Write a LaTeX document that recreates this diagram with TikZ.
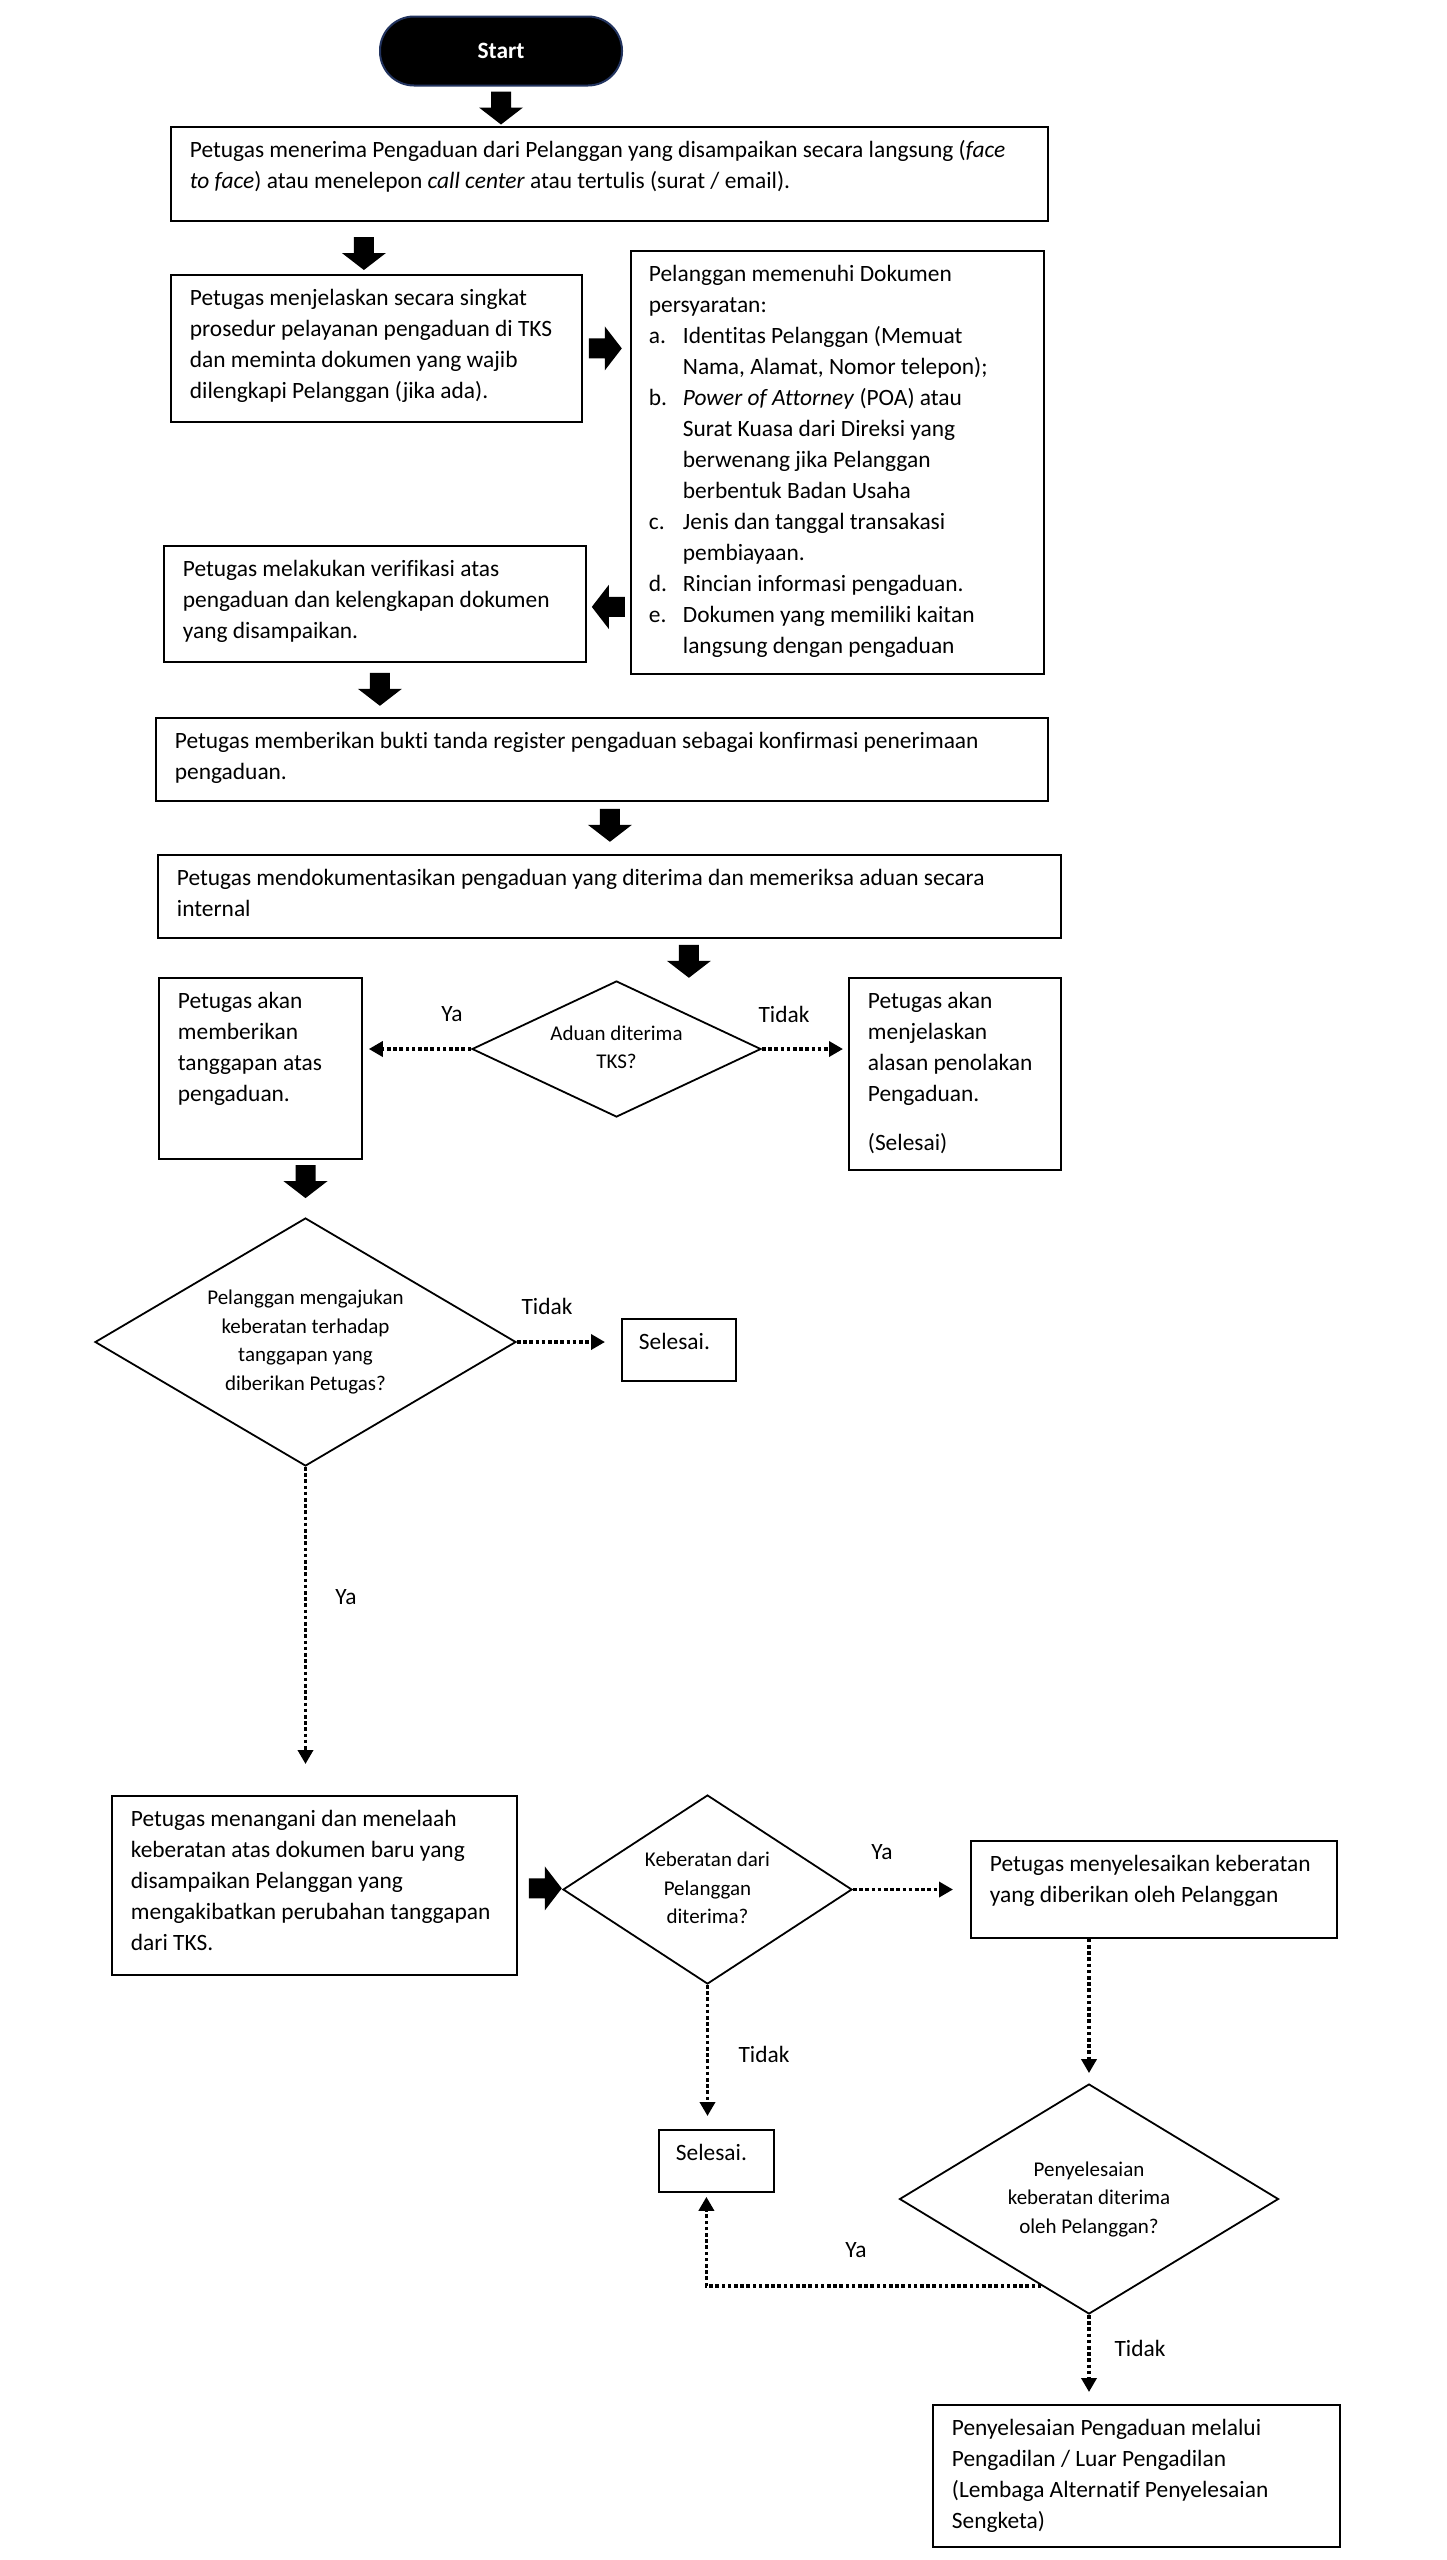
\documentclass[tikz,border=0pt]{standalone}
\usepackage{fontspec}
\setmainfont{Carlito}[Ligatures=NoCommon]
\usetikzlibrary{arrows.meta,shapes.geometric,calc}
\definecolor{navy}{HTML}{22335E}
\newcommand{\bodyfont}{\fontsize{23.4}{31}\selectfont}
\newcommand{\diafont}{\fontsize{21}{28.5}\selectfont}
\newcommand{\bxt}[3]{\parbox[t][\dimexpr #2pt-18pt\relax][t]{\dimexpr #1pt-38pt\relax}{\begin{tabular}[t]{@{}l@{}}#3\end{tabular}}}
\newcommand{\dtx}[1]{\smash{\raisebox{-5pt}{\makebox[0pt]{\begin{tabular}{@{}c@{}}#1\end{tabular}}}}}
\newcommand{\itm}[1]{\makebox[34pt][l]{#1}}
\newcommand{\ind}{\hspace*{34pt}}
\tikzset{
  box/.style={draw, line width=1.8pt, inner xsep=19pt, inner ysep=9pt, anchor=north west, font=\bodyfont},
  dia/.style={draw, diamond, line width=1.8pt, inner sep=0pt, font=\diafont},
  lbl/.style={font=\bodyfont, inner sep=0pt},
  dotline/.style={line width=3.6pt, dash pattern=on 3.6pt off 2.6pt, -{Triangle[width=15pt,length=14pt]}},
  barr/.pic={\fill (-10pt,0pt) -- (-10pt,-16pt) -- (-22pt,-16pt) -- (0pt,-33pt) -- (22pt,-16pt) -- (10pt,-16pt) -- (10pt,0pt) -- cycle;}
}
\begin{document}
\begin{tikzpicture}[x=1pt,y=-1pt]
\useasboundingbox (0,0) rectangle (1447,2560);
\fill[white] (0,0) rectangle (1447,2560);

\node[draw=navy, fill=black, line width=2pt, rounded corners=34pt, minimum width=242pt, minimum height=69pt, text=white, font=\bodyfont\bfseries] (start) at (501,51) {Start};

\node[box] (box1) at (170,126) {\bxt{877}{94}{Petugas menerima Pengaduan dari Pelanggan yang disampaikan secara langsung (\textit{face}\\ \textit{to face}) atau menelepon \textit{call center} atau tertulis (surat / email).}};

\node[box] (box2) at (170,274) {\bxt{411}{147}{Petugas menjelaskan secara singkat\\ prosedur pelayanan pengaduan di TKS\\ dan meminta dokumen yang wajib\\ dilengkapi Pelanggan (jika ada).}};

\node[box, inner xsep=18pt] (box3) at (630,250) {\bxt{415}{423}{Pelanggan memenuhi Dokumen\\ persyaratan:\\
\itm{a.}Identitas Pelanggan (Memuat\\ \ind Nama, Alamat, Nomor telepon);\\
\itm{b.}\textit{Power of Attorney} (POA) atau\\ \ind Surat Kuasa dari Direksi yang\\ \ind berwenang jika Pelanggan\\ \ind berbentuk Badan Usaha\\
\itm{c.}Jenis dan tanggal transakasi\\ \ind pembiayaan.\\
\itm{d.}Rincian informasi pengaduan.\\
\itm{e.}Dokumen yang memiliki kaitan\\ \ind langsung dengan pengaduan}};

\node[box] (box4) at (163,545) {\bxt{422}{116}{Petugas melakukan verifikasi atas\\ pengaduan dan kelengkapan dokumen\\ yang disampaikan.}};

\node[box] (box5) at (155,717) {\bxt{892}{83}{Petugas memberikan bukti tanda register pengaduan sebagai konfirmasi penerimaan\\ pengaduan.}};

\node[box] (box6) at (157,854) {\bxt{903}{83}{Petugas mendokumentasikan pengaduan yang diterima dan memeriksa aduan secara\\ internal}};

\node[dia, minimum width=289pt, minimum height=136pt] (d1) at (616.5,1049) {\dtx{Aduan diterima\\ TKS?}};

\node[box] (box7) at (158,977) {\bxt{203}{181}{Petugas akan\\ memberikan\\ tanggapan atas\\ pengaduan.}};

\node[box] (box8) at (848,977) {\bxt{212}{192}{Petugas akan\\ menjelaskan\\ alasan penolakan\\ Pengaduan.\\[18pt] (Selesai)}};

\node[dia, minimum width=421pt, minimum height=248pt] (d2) at (305.5,1342) {\dtx{Pelanggan mengajukan\\ keberatan terhadap\\ tanggapan yang\\ diberikan Petugas?}};

\node[box, inner xsep=17pt] (sel1) at (621,1318) {\bxt{118}{62}{Selesai.}};

\node[box] (box9) at (111,1795) {\bxt{405}{179}{Petugas menangani dan menelaah\\ keberatan atas dokumen baru yang\\ disampaikan Pelanggan yang\\ mengakibatkan perubahan tanggapan\\ dari TKS.}};

\node[dia, minimum width=289pt, minimum height=189pt] (d3) at (707.5,1889.5) {\dtx{Keberatan dari\\ Pelanggan\\ diterima?}};

\node[box] (box10) at (970,1840) {\bxt{366}{97}{Petugas menyelesaikan keberatan\\ yang diberikan oleh Pelanggan}};

\node[box, inner xsep=17pt] (sel2) at (658,2129) {\bxt{119}{62}{Selesai.}};

\node[dia, minimum width=379pt, minimum height=230pt] (d4) at (1089,2199) {\dtx{Penyelesaian\\ keberatan diterima\\ oleh Pelanggan?}};

\node[box] (box11) at (932,2404) {\bxt{407}{142}{Penyelesaian Pengaduan melalui\\ Pengadilan / Luar Pengadilan\\ (Lembaga Alternatif Penyelesaian\\ Sengketa)}};

% block arrows
\pic at ([yshift=-5pt]start.south) {barr};
\pic at ([xshift=-12.5pt,yshift=37pt]box2.north) {barr};
\pic[rotate=90] at ([xshift=6pt]box2.east) {barr};
\pic[rotate=-90] at ([xshift=38pt,yshift=-3pt]box4.east) {barr};
\pic at ([xshift=5pt,yshift=-10pt]box4.south) {barr};
\pic at ([xshift=8pt,yshift=-7pt]box5.south) {barr};
\pic at ([xshift=79.5pt,yshift=-6pt]box6.south) {barr};
\pic at ([yshift=52pt]d2.north) {barr};
\pic[rotate=90] at ([xshift=11pt,yshift=-3pt]box9.east) {barr};

% dotted connectors
\draw[dotline, shorten >=6pt] (d1.west) -- (d1.west -| box7.east);
\draw[dotline, shorten >=5pt] (d1.east) -- (d1.east -| box8.west);
\draw[dotline, shorten >=16pt] (d2.east) -- (d2.east -| sel1.west);
\draw[dotline, shorten >=31pt] (d2.south) -- (d2.south |- box9.north);
\draw[dotline, shorten >=17pt] (d3.east) -- (d3.east -| box10.west);
\draw[dotline, shorten >=13pt] (d3.south) -- (d3.south |- sel2.north);
\draw[dotline, shorten >=10pt] (box10.south -| d4.north) -- (d4.north);
\draw[dotline, shorten >=4pt] ($(d4.west)!0.75!(d4.south)$) -| ([xshift=-10pt]sel2.south);
\draw[dotline, shorten >=12pt] (d4.south) -- (d4.south |- box11.north);

% labels
\node[lbl] (ya1) at (452,1014) {Ya};
\node[lbl] (tidak1) at (784,1014) {Tidak};
\node[lbl] (tidak2) at (547,1306) {Tidak};
\node[lbl] (ya2) at (346,1597) {Ya};
\node[lbl] (ya3) at (882,1852) {Ya};
\node[lbl] (tidak3) at (764,2054) {Tidak};
\node[lbl] (ya4) at (856,2250) {Ya};
\node[lbl] (tidak4) at (1140,2348) {Tidak};
\end{tikzpicture}
\end{document}
